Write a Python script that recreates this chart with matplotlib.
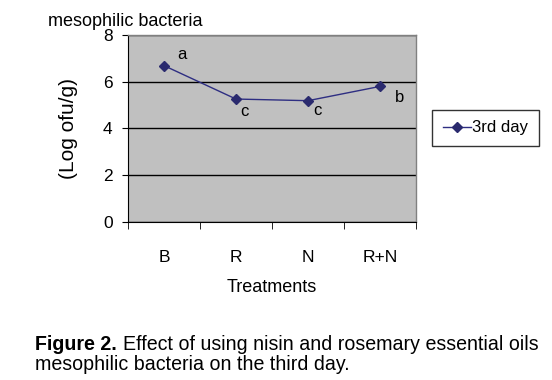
import matplotlib
matplotlib.use('Agg')
import matplotlib.pyplot as plt

treatments = ['B', 'R', 'N', 'R+N']
day3_counts = [6.69, 5.26, 5.19, 5.8]
sig_letters = ['a', 'c', 'c', 'b']
yticks = [0, 2, 4, 6, 8]

plt.rcParams['font.family'] = ['Liberation Sans', 'DejaVu Sans']

fig = plt.figure(figsize=(5.52, 3.8), dpi=100)
ax = fig.add_axes([0.2319, 0.4158, 0.5217, 0.4921])
ax.set_facecolor('#c0c0c0')

xs = range(len(treatments))
ax.plot(xs, day3_counts, color='#2e2e82', lw=1, marker='D', ms=5,
        mfc='#2a2a6e', mec='#2a2a6e', label='3rd day')

# letter offsets (points) roughly as placed in the original
offsets = [(13, 8), (6, -9), (7, -7), (14, -8)]
for i, (v, s) in enumerate(zip(day3_counts, sig_letters)):
    ax.annotate(s, (i, v), xytext=offsets[i], textcoords='offset points',
                fontsize=12, ha='center', va='center')

ax.set_xlim(-0.5, len(treatments) - 0.5)
ax.set_ylim(0, 8)
ax.set_yticks(yticks)
ax.set_xticks(xs)
ax.set_xticklabels(treatments)
ax.set_xticks([i - 0.5 for i in range(len(treatments) + 1)], minor=True)
ax.tick_params(axis='x', which='major', length=0, pad=20, labelsize=12.5)
ax.tick_params(axis='x', which='minor', length=5, direction='out')
ax.tick_params(axis='y', length=4, labelsize=12.5, pad=7)
ax.grid(axis='y', color='black', lw=1)
ax.set_axisbelow(True)
for side in ['top', 'right']:
    ax.spines[side].set_color('#808080')
    ax.spines[side].set_linewidth(1)

ax.set_ylabel('(Log ofu/g)', fontsize=15, labelpad=18)
ax.set_xlabel('Treatments', fontsize=13, labelpad=10)

fig.text(0.087, 1 - 26 / 380, 'mesophilic bacteria', fontsize=13, va='baseline')

leg = ax.legend(loc='center left', bbox_to_anchor=(1.056, 0.503), fontsize=12,
                frameon=True, fancybox=False, edgecolor='black',
                handlelength=1.7, handletextpad=0.05, borderpad=0.65,
                borderaxespad=0)
leg.get_frame().set_linewidth(1)

# caption, bold lead-in followed by plain text
cap_x = 35 / 552
bold = fig.text(cap_x, 1 - 350 / 380, 'Figure 2.', fontsize=14.1,
                fontweight='bold', va='baseline')
fig.canvas.draw()
bb = bold.get_window_extent()
fig.text((bb.x1 + 6) / fig.bbox.width, 1 - 350 / 380,
         'Effect of using nisin and rosemary essential oils',
         fontsize=14.1, va='baseline')
fig.text(cap_x, 1 - 370 / 380, 'mesophilic bacteria on the third day.',
         fontsize=14.1, va='baseline')

fig.savefig('out.png', dpi=100)
